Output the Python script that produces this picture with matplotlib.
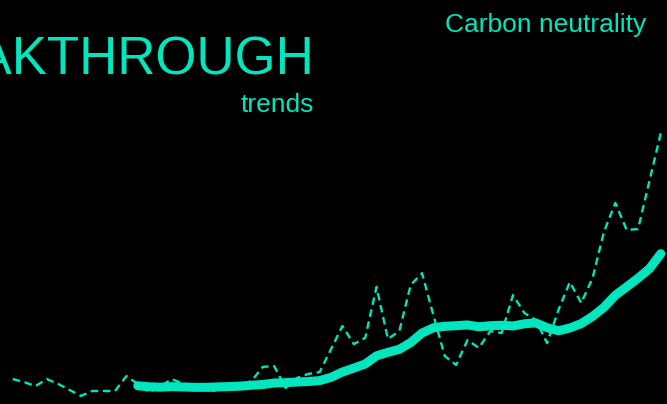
import matplotlib.pyplot as plt
import numpy as np
import pandas as pd

# monthly interest index (0-100)
interest = [9.2, 8.1, 6.6, 9.2, 7.4, 5.2, 3.0, 4.8, 4.8, 4.8,
            10.3, 7.4, 4.4, 6.6, 9.2, 7.4, 5.9, 5.2, 4.8, 6.3,
            7.0, 8.5, 13.7, 14.0, 5.9, 9.6, 11.1, 11.8, 20.3, 28.8,
            22.1, 24.4, 43.2, 24.0, 26.9, 43.9, 48.3, 32.8, 17.7, 14.4,
            23.6, 20.7, 26.9, 26.2, 40.2, 33.6, 31.0, 22.5, 34.7, 45.0,
            37.3, 46.5, 63.5, 74.2, 64.2, 64.6, 82.3, 100.0]
window = 12

title = "BREAKTHROUGH"
subtitle = "trends"
topic = "Carbon neutrality"

teal = '#00E6BE'
plt.rcParams['font.family'] = ['Liberation Sans', 'DejaVu Sans']

months = np.arange(len(interest))
trend = pd.Series(interest).rolling(window).mean()  # 12-month average

fig = plt.figure(figsize=(6.67, 4.04), dpi=100, facecolor='black')
ax = fig.add_axes([0, 0, 1, 1])
ax.set_facecolor('black')

ax.plot(months, interest, color=teal, lw=1.7, dashes=(3.2, 2.0), zorder=2)
ax.plot(months, trend, color=teal, lw=6.5, solid_capstyle='round',
        solid_joinstyle='round', zorder=3)

ax.set_xlim(-1.117, 57.545)
ax.set_ylim(0, 149.1)
ax.axis('off')

# titles (the big one runs off the left edge, as in the original)
fig.text(0.4708, 0.8144, title, color=teal, fontsize=38, ha='right', va='baseline')
fig.text(0.4708, 0.7235, subtitle, color=teal, fontsize=19, ha='right', va='baseline')
fig.text(0.9693, 0.9215, topic, color=teal, fontsize=19, ha='right', va='baseline')

fig.savefig('out.png', dpi=100, facecolor='black')
